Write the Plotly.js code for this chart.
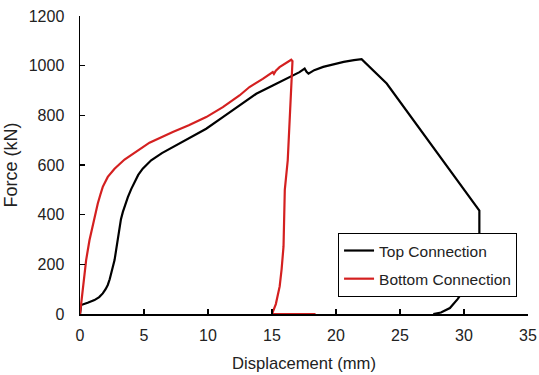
<!DOCTYPE html>
<html><head><meta charset="utf-8">
<script src="https://cdn.plot.ly/plotly-3.0.1.min.js"></script>
<style>html,body{margin:0;padding:0;background:#fff}#chart{width:539px;height:375px}</style>
</head><body><div id="chart"></div>
<script>
// Top Connection (black)
const topDisp  = [0, 0.09, 0.6, 1.13, 1.5, 1.78, 2.0, 2.17, 2.32, 2.44, 2.58, 2.7, 2.8, 2.9, 3.0, 3.09, 3.2, 3.35, 3.52, 3.74, 4.0, 4.26, 4.55, 4.9, 5.56, 6.4, 7.25, 8.5, 9.86, 11.16, 12.46, 13.77, 15.06, 16.5, 17.15, 17.55, 17.7, 17.85, 18.3, 19.0, 20.0, 20.6, 21.4, 22.0, 23.96, 31.2, 31.2, 31.1, 30.7, 30.08, 29.5, 28.9, 28.2, 27.6];
const topForce = [0, 36, 45, 56, 68, 83, 100, 117, 140, 163, 190, 217, 250, 284, 318, 351, 382, 411, 440, 471, 503, 532, 560, 585, 619, 648, 672, 710, 746, 793, 840, 887, 920, 957, 974, 988, 975, 968, 982, 995, 1008, 1015, 1022, 1026, 928, 416, 320, 240, 170, 104, 60, 24, 6, 0];
// Bottom Connection (red)
const botDisp  = [0, 0.22, 0.48, 0.74, 1.13, 1.39, 1.6, 1.78, 2.17, 2.7, 3.48, 4.65, 5.43, 7.25, 8.5, 9.86, 11.16, 12.46, 13.24, 14.28, 15.06, 15.15, 15.3, 15.59, 16.0, 16.5, 16.6, 16.4, 16.23, 16.0, 15.9, 15.75, 15.6, 15.3, 15.0, 18.4];
const botForce = [0, 110, 217, 297, 391, 445, 482, 512, 552, 585, 622, 662, 690, 733, 760, 793, 833, 880, 914, 947, 974, 967, 980, 994, 1008, 1024, 1018, 800, 619, 500, 272, 180, 111, 40, 0, 0];

const seriesNames = ['Top Connection', 'Bottom Connection'];
const xTicks = [0, 5, 10, 15, 20, 25, 30, 35];
const yTicks = [0, 200, 400, 600, 800, 1000, 1200];

const fam = 'Liberation Sans, Arial, sans-serif';
const tickFont = {family: fam, size: 16, color: '#222'};
const legFont = {family: fam, size: 15.5, color: '#222'};

const traces = [
  {x: topDisp, y: topForce, name: seriesNames[0], legendgroup: 'a', mode: 'lines', line: {color: '#000000', width: 2.2}},
  {x: botDisp, y: botForce, name: seriesNames[1], legendgroup: 'b', mode: 'lines', line: {color: '#d42020', width: 2.2}}
];

const layout = {
  width: 539, height: 375,
  margin: {l: 80, r: 11, t: 16, b: 61},
  paper_bgcolor: '#fff', plot_bgcolor: '#fff',
  font: tickFont,
  showlegend: true,
  legend: {x: 0.576, y: 0.272, xanchor: 'left', yanchor: 'top', bordercolor: '#000', borderwidth: 1, bgcolor: '#fff', font: legFont, tracegroupgap: 5},
  xaxis: {
    range: [0, 35], tickvals: xTicks, ticktext: xTicks.map(String),
    showgrid: false, zeroline: false, showline: true, linecolor: '#000', linewidth: 1.5,
    ticks: 'inside', ticklen: 5, tickwidth: 1.2, tickcolor: '#000',
    tickfont: tickFont, ticklabelstandoff: 6,
    title: {text: 'Displacement (mm)', font: {family: fam, size: 16.6, color: '#222'}, standoff: 14}
  },
  yaxis: {
    range: [0, 1200], tickvals: yTicks, ticktext: yTicks.map(String),
    showgrid: false, zeroline: false, showline: true, linecolor: '#000', linewidth: 1.5,
    ticks: 'inside', ticklen: 5, tickwidth: 1.2, tickcolor: '#000',
    tickfont: tickFont, ticklabelstandoff: 11,
    title: {text: 'Force (kN)', font: {family: fam, size: 18, color: '#222'}, standoff: 6}
  }
};

Plotly.newPlot('chart', traces, layout, {displayModeBar: false, staticPlot: true});
</script>
</body></html>
